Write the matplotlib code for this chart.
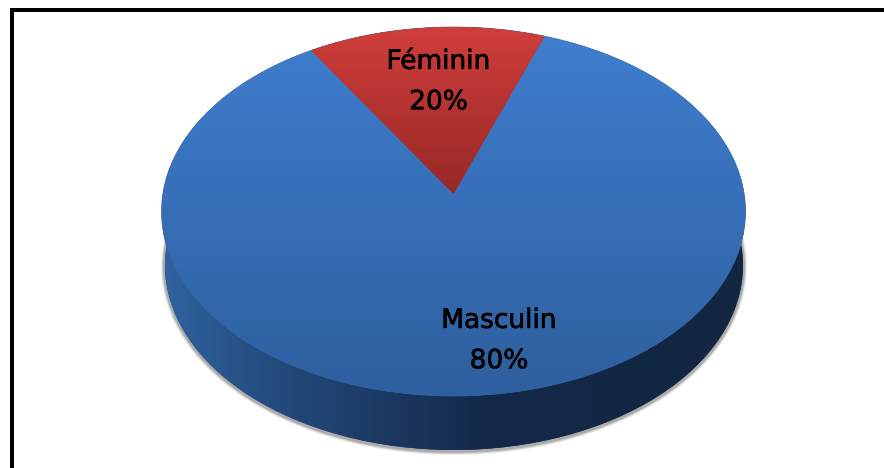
import numpy as np
import matplotlib
matplotlib.use('Agg')
import matplotlib.pyplot as plt
import matplotlib.patheffects as pe
from matplotlib.colors import LinearSegmentedColormap
from matplotlib.patches import Ellipse, Polygon

labels = ['Féminin', 'Masculin']
shares = [20, 80]

# pixel layout of the pseudo 3D pie
CX, CY, RX, RY = 453.5, 211.5, 292, 184.5
TIP_Y = 194
DEPTH = 54
MID_ANGLE = 96
SQUASH = 0.67

top_blue = ['#3f7ecf', '#2e5f9e']
top_red = ['#d03e3a', '#962827']
side_blue = [(0, '#2f639f'), (0.2, '#234a7c'), (0.55, '#14294a'), (1, '#122640')]


def project(theta, r=1.0):
    # squash the angles round the slice, then put the disc in perspective
    d = np.radians(theta - MID_ANGLE)
    a = np.radians(MID_ANGLE) + np.arctan2(SQUASH * np.sin(d), np.cos(d))
    u, v = r * np.cos(a), r * np.sin(a)
    c = (CY - TIP_Y) / RY
    x = CX + RX * np.sqrt(1 - c ** 2) * u / (1 + c * v)
    y = CY - RY * (v + c) / (1 + c * v)
    return x, y


def slice_polygon(theta1, theta2):
    theta = np.linspace(theta1, theta2, 200)
    x, y = project(theta)
    tip_x, tip_y = project(np.array([theta1]), 0.0)
    return np.column_stack([np.r_[tip_x, x], np.r_[tip_y, y]])


def gradient(ax, clip, colors, extent, horizontal=False):
    cmap = LinearSegmentedColormap.from_list('g', colors)
    g = np.linspace(0, 1, 512)
    g = g[None, :] if horizontal else g[:, None]
    img = ax.imshow(g, cmap=cmap, extent=extent, aspect='auto', zorder=clip.get_zorder())
    img.set_clip_path(clip)


fig = plt.figure(figsize=(8.84, 4.68), dpi=100)
ax = fig.add_axes([0, 0, 1, 1])

# soft shadow under the side
for grow, alpha in [(4, 0.10), (3, 0.16), (2, 0.25)]:
    ax.add_patch(Ellipse((454, CY + DEPTH + 1), 2 * 289 + 2 * grow, 2 * RY + 2 * grow,
                         fc='#404040', ec='none', alpha=alpha, zorder=1))

side = Ellipse((454, CY + DEPTH), 2 * 289, 2 * RY, fc='#1c3a60', ec='none', zorder=2)
ax.add_patch(side)
gradient(ax, side, side_blue, (CX - RX, CX + RX, CY + DEPTH + RY, CY), horizontal=True)

top = Ellipse((CX, CY), 2 * RX, 2 * RY, fc='#3569ad', ec='#3569ad', lw=0.5, zorder=3)
ax.add_patch(top)
gradient(ax, top, top_blue, (CX - RX, CX + RX, CY + RY, CY - RY))

half = shares[0] / sum(shares) * 180
red = Polygon(slice_polygon(MID_ANGLE - half, MID_ANGLE + half), fc='#b03332', ec='none', zorder=4)
ax.add_patch(red)
gradient(ax, red, top_red, (CX - RX, CX + RX, TIP_Y, CY - RY))

label_pos = [(438.5, 82), (499, 341)]
for name, share, (lx, ly) in zip(labels, shares, label_pos):
    t = ax.text(lx, ly, f'{name}\n{share}%', ha='center', va='center', fontsize=19,
                linespacing=1.72, color='black', family='DejaVu Sans', zorder=5)
    t.set_path_effects([pe.withStroke(linewidth=0.5, foreground='black')])

# frame: only the top and left edges are in the crop
ax.plot([10, 884], [10, 10], color='black', lw=2.88, solid_capstyle='butt', zorder=6)
ax.plot([12, 12], [8, 468], color='black', lw=2.88, solid_capstyle='butt', zorder=6)

ax.set_xlim(0, 884)
ax.set_ylim(468, 0)
ax.axis('off')
fig.savefig('out.png', dpi=100)
plt.close(fig)
